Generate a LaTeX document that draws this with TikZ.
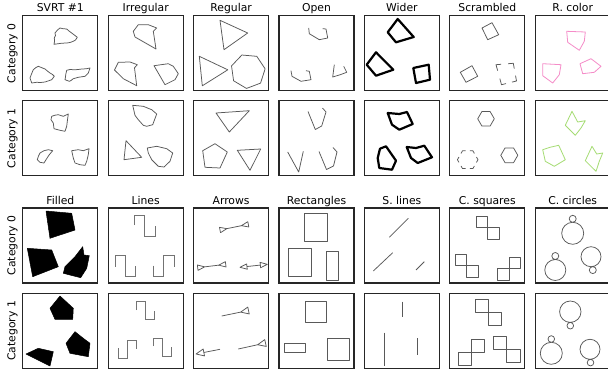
\documentclass[tikz,border=0pt]{standalone}
\usepackage{fontspec}
\setmainfont{DejaVu Sans}
\usetikzlibrary{calc}
\definecolor{pinkc}{RGB}{245,140,200}
\definecolor{greenc}{RGB}{165,220,115}
% triangle: base centre #1, pointing toward #2, length #3, half width #4
\newcommand\tri[4]{\draw[sh] ($(#1)!#4!90:(#2)$) -- ($(#1)!#3!(#2)$) -- ($(#1)!#4!-90:(#2)$) -- cycle;}
\begin{document}
\begin{tikzpicture}[x=1pt,y=-1pt,
  sh/.style={draw=black!65,line width=0.75pt,line join=round},
  ln/.style={draw=black!55,line width=0.8pt},
  thk/.style={draw=black,line width=2.2pt,line join=round},
  fil/.style={fill=black,draw=black,line width=0.5pt,line join=round},
  pk/.style={draw=pinkc,line width=0.8pt,line join=round},
  gr/.style={draw=greenc,line width=0.8pt,line join=round},
  frame/.style={draw=black!85,line width=1.1pt},
  ttl/.style={font=\fontsize{10.8}{13}\selectfont,anchor=base,inner sep=0pt},
  cat/.style={font=\fontsize{10.8}{13}\selectfont,anchor=base,inner sep=0pt,rotate=90}]
\useasboundingbox (0,0) rectangle (608,375);
\fill[white] (0,0) rectangle (608,375);
% frames
\foreach \i in {0,...,6}{\foreach \r in {15.7,100.7,208,293.3}{\draw[frame] ({22.8+85.4*\i},\r) rectangle ++(75,75);}}
% titles
\node[ttl] (t1) at (60.3,11.5) {SVRT \#1};
\node[ttl] (t2) at (145.7,11.5) {Irregular};
\node[ttl] (t3) at (231.1,11.5) {Regular};
\node[ttl] (t4) at (316.5,11.5) {Open};
\node[ttl] (t5) at (401.9,11.5) {Wider};
\node[ttl] (t6) at (487.3,11.5) {Scrambled};
\node[ttl] (t7) at (572.7,11.5) {R. color};
\node[ttl] (u1) at (60.3,204) {Filled};
\node[ttl] (u2) at (145.7,204) {Lines};
\node[ttl] (u3) at (231.1,204) {Arrows};
\node[ttl] (u4) at (316.5,204) {Rectangles};
\node[ttl] (u5) at (401.9,204) {S. lines};
\node[ttl] (u6) at (487.3,204) {C. squares};
\node[ttl] (u7) at (572.7,204) {C. circles};
\node[cat] (c1) at (15.5,53.2) {Category 0};
\node[cat] (c2) at (15.5,138.2) {Category 1};
\node[cat] (c3) at (15.5,245.5) {Category 0};
\node[cat] (c4) at (15.5,330.8) {Category 1};
% ===== Row 1 =====
\draw[sh] (55,33) -- (57.5,30) -- (60,28) -- (63,28.7) -- (66.7,29) -- (69,31) -- (71.7,33) -- (75,35.5) -- (77.3,37.3) -- (75.5,40) -- (73.3,41.3) -- (70,42.5) -- (66.7,43) -- (62,43.2) -- (58.3,43.7) -- (54,44.3) -- (54.6,41) -- (54.3,38) -- (55.5,35.5) -- cycle;
\draw[sh] (30,78) -- (31.5,74) -- (33.3,69.7) -- (36,67.5) -- (38.3,66.3) -- (42,67.8) -- (45,69) -- (48,71.5) -- (50,73) -- (52.5,74.5) -- (54.3,76.3) -- (51.7,79.7) -- (48,81) -- (45,82) -- (40.5,82.5) -- (36.7,82.3) -- (31.7,83) -- cycle;
\draw[sh] (66.7,70.3) -- (70,69.5) -- (73.3,69.7) -- (77.5,69.6) -- (81.7,69) -- (86,68.8) -- (90,68) -- (88.3,73) -- (85,76.3) -- (81.5,76.8) -- (78.3,77.3) -- (73.3,78.7) -- (71,80.5) -- (69.3,81.3) -- (65,79.7) -- (65.5,77) -- (65.7,74.7) -- cycle;
\draw[sh] (133.3,31.3) -- (138.3,24.7) -- (148.3,24.7) -- (156.7,28) -- (153.3,31.3) -- (156,49) -- (135,37) -- cycle;
\draw[sh] (114.5,70) -- (118.3,62.3) -- (130,62) -- (137.3,64.7) -- (134.5,67.8) -- (136.7,85.7) -- (123.3,78.7) -- cycle;
\draw[sh] (154,65.7) -- (168.3,63.7) -- (173.3,66.3) -- (178.3,73.7) -- (175,79.7) -- (165,84.7) -- cycle;
\draw[sh] (220,20.3) -- (247.7,33) -- (224,49.7) -- cycle;
\draw[sh] (199.3,56.3) -- (227.8,69.8) -- (202.3,85.8) -- cycle;
\draw[sh] plot[samples at={0,...,6}] ({248+17.3*cos(\x*360/7+95)},{71.2+17.3*sin(\x*360/7+95)}) -- cycle;
\draw[sh] (308.7,28) -- (309.3,33.7) -- (319.3,39.7) -- (327.7,38) -- (326,29) -- (322.7,28.7);
\draw[sh] (291,70.7) -- (292,76.3) -- (301,81.3) -- (311,79.7) -- (309.3,71.3) -- (306,70.7);
\draw[sh] (334.3,64.7) -- (332.7,77) -- (340.3,74.7) -- (346.7,72.3) -- (343.7,66.3);
\draw[thk] (397.7,19) -- (413.7,37) -- (396,42.3) -- (387.7,32.3) -- cycle;
\draw[thk] (376,52.3) -- (393.3,69.7) -- (376,75.7) -- (366.7,64.7) -- cycle;
\draw[thk] (413.3,68) -- (428.7,64.7) -- (430,79.7) -- (416,83) -- cycle;
\draw[sh] (482,28) -- (492,22.7) -- (498.7,34.7) -- (487.7,39.7) -- cycle;
\draw[sh] (460.3,72.3) -- (472,65.7) -- (477.7,76.3) -- (466,82.3) -- cycle;
\coordinate (sA) at (496,64.7);
\coordinate (sB) at (513.3,63.3);
\coordinate (sC) at (516.5,81);
\coordinate (sD) at (501.5,84.7);
\foreach \p/\c/\n in {sD/sA/sB, sA/sB/sC, sB/sC/sD, sC/sD/sA}{\draw[sh] ($(\c)!0.3!(\p)$) -- (\c) -- ($(\c)!0.3!(\n)$);}
\draw[pk] (566.7,31.3) -- (585.3,32) -- (584.3,41.3) -- (579.3,50.3) -- (567.7,42.3) -- cycle;
\draw[pk] (542.7,63.7) -- (561,64.7) -- (559.3,74.7) -- (552.7,83) -- (542.7,75.7) -- cycle;
\draw[pk] (580,63.7) -- (591,58.7) -- (601,66.3) -- (594.3,72.3) -- (582.7,73.7) -- cycle;
% ===== Row 2 =====
\draw[sh] (51.7,116.3) -- (55,115.2) -- (58.3,114.7) -- (63.3,116.3) -- (68.3,114) -- (67.3,121.3) -- (66.7,126.3) -- (65,131.3) -- (60,130.3) -- (54,128.7) -- (53.3,123) -- (51,119.7) -- cycle;
\draw[sh] (40,153) -- (44,150.7) -- (48.3,149.7) -- (52.7,150.7) -- (49.3,154.7) -- (46,159.7) -- (44,163) -- (40,162.3) -- (37.3,159.7) -- (38.5,156) -- cycle;
\draw[sh] (71.7,150.7) -- (78.3,149.7) -- (83.3,150.7) -- (89,148.7) -- (88.3,154.7) -- (86.7,161.3) -- (85,165.3) -- (80,164.7) -- (75,163) -- (73.3,158) -- cycle;
\draw[sh] (132.7,105.3) -- (143.3,106.3) -- (151.7,109.7) -- (156.7,114) -- (152.7,124.7) -- (146.7,126.3) -- (143.3,125.3) -- (138.3,119.7) -- (135,115.3) -- cycle;
\draw[sh] (126,140.7) -- (141.7,157.3) -- (124,159.7) -- cycle;
\draw[sh] (147.3,148) -- (156.7,146.3) -- (166.7,148.7) -- (172.7,153) -- (170,161.3) -- (164,167) -- (158.3,166.3) -- (151.7,159.7) -- (148.3,153) -- cycle;
\draw[sh] (216,113) -- (249.3,110.7) -- (229.3,132) -- cycle;
\draw[sh] (202.7,150.7) -- (215,143.7) -- (227.3,152) -- (220,168) -- (205,167.3) -- cycle;
\draw[sh] (237.3,150.3) -- (260.7,149) -- (250,170.3) -- cycle;
\draw[sh] (308,111.5) -- (315.3,129.5) -- (321.7,126) -- (326,112) -- (322.5,108);
\draw[sh] (287.7,152) -- (298.7,172) -- (303.3,151.3);
\draw[sh] (319,151.5) -- (326.5,169.5) -- (333.5,166) -- (337,152) -- (333,147.5);
\draw[thk] (387.7,113) -- (399.3,114) -- (407,112) -- (412.7,124) -- (399.3,129.7) -- (392,124.7) -- cycle;
\draw[thk] (380,148.7) -- (386,146.3) -- (396,160.7) -- (392,169.7) -- (379.3,168) -- (377.7,158) -- cycle;
\draw[thk] (406.7,147) -- (416,148) -- (424.3,145.7) -- (432,157.3) -- (417.7,163) -- (411,158) -- cycle;
\draw[sh] (486,118.8) +(0:8.3) -- +(60:8.3) -- +(120:8.3) -- +(180:8.3) -- +(240:8.3) -- +(300:8.3) -- cycle;
\draw[sh] (509.3,155.3) +(0:8.5) -- +(60:8.5) -- +(120:8.5) -- +(180:8.5) -- +(240:8.5) -- +(300:8.5) -- cycle;
\foreach \k in {0,...,5}{\coordinate (h\k) at ($(467.7,159.7)+(\k*60:10.3)$);}
\foreach \p/\c/\n in {h5/h0/h1, h0/h1/h2, h1/h2/h3, h2/h3/h4, h3/h4/h5, h4/h5/h0}{\draw[sh] ($(\c)!0.3!(\p)$) -- (\c) -- ($(\c)!0.3!(\n)$);}
\draw[gr] (572,111.3) -- (577.7,122) -- (585.3,120.7) -- (581,128) -- (575.3,135.3) -- (565.3,125.3) -- cycle;
\draw[gr] (542.7,149.7) -- (550,147.3) -- (558.7,145.3) -- (565.3,159.7) -- (554.3,166.3) -- (545.3,161.3) -- cycle;
\draw[gr] (592,146.3) -- (596.7,154) -- (602.7,153) -- (599.3,161.3) -- (596,171.3) -- (585.3,160.7) -- cycle;
% ===== Row 3 =====
\filldraw[fil] (46,211) -- (71.7,213.3) -- (75,230) -- (50,238.3) -- cycle;
\filldraw[fil] (27.3,248.3) -- (51.7,250) -- (58.3,266.7) -- (32.7,276.7) -- cycle;
\filldraw[fil] (65,266.7) -- (75,256.7) -- (82.7,246.7) -- (84,255) -- (89.3,255.7) -- (86.7,268.3) -- (80.7,277.7) -- (63.3,273.3) -- cycle;
\draw[ln] (134,225) -- (134,215.7) -- (144.3,215.7) -- (144.3,236.7) -- (155,236.7) -- (155,225.7);
\draw[ln] (115,266.7) -- (115,255) -- (125,255) -- (125,276.7) -- (135.7,276.7) -- (135.7,265.7);
\draw[ln] (153.3,265.7) -- (153.3,276.7) -- (163.3,276.7) -- (163.3,255) -- (174,255) -- (174,266.7);
% arrows cat 0
\coordinate (a1p) at (220,230); \coordinate (a1q) at (248.3,224.3);
\draw[sh] ($(a1p)!7pt!(a1q)$) -- ($(a1q)!7pt!(a1p)$);
\tri{a1p}{a1q}{7pt}{2.7pt} \tri{a1q}{a1p}{7pt}{2.7pt}
\coordinate (a2p) at (197.7,267.7); \coordinate (a2q) at (225.7,264.3);
\draw[sh] ($(a2p)!7pt!(a2q)$) -- ($(a2q)!7pt!(a2p)$);
\tri{a2p}{a2q}{7pt}{2.7pt} \tri{a2q}{a2p}{7pt}{2.7pt}
\coordinate (a3p) at (240,267.3); \coordinate (a3q) at (267.3,264.3);
\coordinate (a3pb) at ($(a3p)!7pt!(a3q)$); \coordinate (a3qb) at ($(a3q)!7pt!(a3p)$);
\draw[sh] (a3pb) -- (a3qb);
\tri{a3pb}{a3p}{7pt}{2.7pt} \tri{a3qb}{a3q}{7pt}{2.7pt}
\draw[sh] (304.3,213.3) rectangle (327.7,241.7);
\draw[sh] (288.3,248.3) rectangle (311.7,276.7);
\draw[sh] (326.7,251.7) rectangle (338.3,280);
\draw[sh] (389.3,237.3) -- (408.3,218.3);
\draw[sh] (373.3,271) -- (392.7,252.7);
\draw[sh] (416,270) -- (424.3,261.7);
\draw[sh] (476,216) rectangle ++(11.5,11.5) (487.5,227.5) rectangle ++(11.5,11.5);
\draw[sh] (455.5,254.3) rectangle ++(11.3,11.3) (466.8,265.6) rectangle ++(11.3,11.3);
\draw[sh] (509.3,256.9) rectangle ++(11.5,11.5) (497.8,268.4) rectangle ++(11.5,11.5);
\draw[sh] (572.7,233.3) circle[radius=11] (572.7,218.8) circle[radius=3.5];
\draw[sh] (555.3,270) circle[radius=10.5] (555.3,256) circle[radius=3.5];
\draw[sh] (591,256.7) circle[radius=10] (592.8,270.1) circle[radius=3.5];
% ===== Row 4 =====
\filldraw[fil] (60,296) -- (73.3,308.3) -- (72.7,319.3) -- (55,319.3) -- (50,308.3) -- cycle;
\filldraw[fil] (26,354) -- (38.3,348.3) -- (53.3,351.7) -- (50,366) -- cycle;
\filldraw[fil] (75,331.7) -- (83.3,338.3) -- (90,343.3) -- (88.3,356.7) -- (70,353.3) -- (66,343.3) -- cycle;
\draw[ln] (136,310) -- (136,301.7) -- (145,301.7) -- (145,319.3) -- (154,319.3) -- (154,310.7);
\draw[ln] (118.3,348.3) -- (118.3,358.3) -- (127.3,358.3) -- (127.3,340.7) -- (136.7,340.7) -- (136.7,349.3);
\draw[ln] (153.3,346) -- (153.3,338.3) -- (162.7,338.3) -- (162.7,356) -- (171.7,356) -- (171.7,347.3);
% arrows cat 1
\coordinate (b1p) at (221.7,316); \coordinate (b1q) at (248.5,310.5);
\draw[sh] (b1p) -- ($(b1q)!8pt!(b1p)$);
\tri{b1q}{b1p}{8pt}{3.5pt}
\coordinate (b2p) at (196,354); \coordinate (b2q) at (220,349.3);
\coordinate (b2pb) at ($(b2p)!8pt!(b2q)$);
\draw[sh] (b2pb) -- (b2q);
\tri{b2pb}{b2p}{8pt}{3.5pt}
\coordinate (b3p) at (238.3,349); \coordinate (b3q) at (265.5,343);
\draw[sh] (b3p) -- ($(b3q)!8pt!(b3p)$);
\tri{b3q}{b3p}{8pt}{3.5pt}
\draw[sh] (305.3,301.7) rectangle (326.7,322.7);
\draw[sh] (284.3,343.3) rectangle (305.3,352.7);
\draw[sh] (327.7,338.3) rectangle (349.3,360);
\draw[sh] (402.7,301.7) -- (402.7,317.3);
\draw[sh] (384.3,332.7) -- (384.3,366);
\draw[sh] (417.7,338.3) -- (417.7,355);
\draw[sh] (475.3,299.3) rectangle ++(13,13) (488.3,312.3) rectangle ++(13,13);
\draw[sh] (458.7,352) rectangle ++(13,13) (471.7,339) rectangle ++(13,13);
\draw[sh] (493.3,336) rectangle ++(13.3,13.3) (506.6,349.3) rectangle ++(13.3,13.3);
\draw[sh] (570.3,311.7) circle[radius=10.7] (570.3,325.7) circle[radius=3.3];
\draw[sh] (551.3,353.3) circle[radius=11] (551.3,339) circle[radius=3.3];
\draw[sh] (590,349.3) circle[radius=10] (590.5,362.6) circle[radius=3.3];
\end{tikzpicture}
\end{document}
